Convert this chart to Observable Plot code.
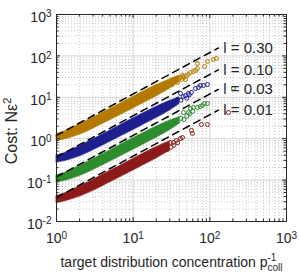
<!DOCTYPE html>
<html><head><meta charset="utf-8">
<script src="https://cdn.jsdelivr.net/npm/d3@7"></script>
<script src="https://cdn.jsdelivr.net/npm/@observablehq/plot@0.6"></script>
<style>
body{margin:0;background:#fff}
svg{font-family:"Liberation Sans",Arial,Helvetica,sans-serif}
</style>
</head><body><div id="chart"></div>
<script>
// ---- data ----
const seriesNames = ["l = 0.30", "l = 0.10", "l = 0.03", "l = 0.01"];
const seriesColors = ["#b47a00", "#1e1e8f", "#2e8b2e", "#8c1a1a"];

// dense band of points: x positions and lower / upper cost edges
const bandX = [1, 1.3, 2, 3, 5, 10, 20, 30, 40];
const band030Top = [1.3, 1.5, 2.2, 3.2, 5.2, 10.2, 19.5, 27, 33];
const band030Bot = [0.88, 0.97, 1.25, 1.75, 2.8, 5.4, 10.5, 16, 23];
const band010Top = [0.39, 0.45, 0.66, 0.96, 1.56, 3.06, 5.85, 8.1, 9.9];
const band010Bot = [0.265, 0.29, 0.375, 0.525, 0.84, 1.62, 3.15, 4.8, 6.9];
const band003Top = [0.13, 0.15, 0.22, 0.32, 0.52, 1.02, 1.95, 2.7, 3.3];
const band003Bot = [0.088, 0.097, 0.125, 0.175, 0.28, 0.54, 1.05, 1.6, 2.3];
const band001Top = [0.041, 0.048, 0.07, 0.101, 0.165, 0.323, 0.62, 0.86];
const band001Bot = [0.028, 0.031, 0.04, 0.055, 0.089, 0.171, 0.333, 0.51];

// individual points at high concentration [x, cost]
const pts030 = [[30,22],[32,20],[34,27],[38,23],[40,29],[43,27],[44,34],[46,30],[33.5,25.5],[36.7,28.5],[41.4,30.1],[45.3,31.8],[48.1,26.9],[49.5,33.6],[52.6,35.6],[55.9,39.7],[61.1,42],[64.9,44.4],[68.9,49.6],[68.9,65.5],[85,55.5],[93,73.2],[111,81.8],[121.9,86.5]];
const pts010 = [[35,7.5],[38,9],[42,8.5],[45,10.5],[50,9.5],[54,11.5],[41.4,12.4],[48.1,11],[52.6,12.4],[57.6,13.1],[64.9,16.3],[71,17.3],[75.4,19.3],[82.6,19.3],[93,20.4]];
const pts003 = [[38,2.6],[42,3.1],[46,2.9],[50,3.5],[55,4],[60,4.6],[45.3,4.29],[52.6,4.29],[55.9,5.36],[61.1,5.67],[68.9,5.67],[75.4,6.0],[80.1,6.34],[85,7.08],[93,7.08],[203,16.3]];
const pts001 = [[28,0.55],[31,0.62],[34,0.7],[38,0.8],[30.6,0.81],[33.5,0.81],[36.7,0.906],[41.4,1.01],[44,1.07],[57.6,1.58],[59.3,1.34],[77.7,2.2],[93,2.2],[175,4.29]];

// dashed reference lines: start (x=1) and end points
const refLineX = [1, 129];
const refLineStartY = [1.2, 0.36, 0.12, 0.038];
const refLineEndY = [155, 46, 15.5, 4.9];

// axes
const xDomain = [1, 1000];
const yDomain = [0.01, 1000];
const xMajor = [1, 10, 100, 1000];
const yMajor = [0.01, 0.1, 1, 10, 100, 1000];
const minorMult = [2, 3, 4, 5, 6, 7, 8, 9];

// ---- build ----
const minorOf = (majors) => majors.slice(0, -1).flatMap(d => minorMult.map(m => d * m));
const xMinor = minorOf(xMajor), yMinor = minorOf(yMajor);

const bandTops = [band030Top, band010Top, band003Top, band001Top];
const bandBots = [band030Bot, band010Bot, band003Bot, band001Bot];
const bands = seriesNames.flatMap((s, i) => bandTops[i].map((hi, j) => ({s, x: bandX[j], lo: bandBots[i][j], hi})));
const ptsAll = [pts030, pts010, pts003, pts001];
const dots = seriesNames.flatMap((s, i) => ptsAll[i].map(([x, y]) => ({s, x, y})));
const refLines = seriesNames.flatMap((s, i) => [{s, x: refLineX[0], y: refLineStartY[i]}, {s, x: refLineX[1], y: refLineEndY[i]}]);
const refLabels = seriesNames.map((s, i) => ({s, x: refLineX[1], y: refLineEndY[i]}));

const W = 299, H = 275, mL = 56, mR = 13, mT = 14, mB = 54;
const plotH = H - mT - mB, plotW = W - mL - mR;
const majLen = 4, minLen = 2.5;
const sup = d => "10^" + Math.round(Math.log10(d));

const marks = [
  Plot.gridX(xMinor, {stroke: "#a0a0a0", strokeOpacity: 0.55, strokeDasharray: "1,2"}),
  Plot.gridY(yMinor, {stroke: "#a0a0a0", strokeOpacity: 0.55, strokeDasharray: "1,2"}),
  Plot.gridX(xMajor, {stroke: "#d6d6d6", strokeOpacity: 1}),
  Plot.gridY(yMajor, {stroke: "#d6d6d6", strokeOpacity: 1}),
];
seriesNames.forEach((s, i) => {
  marks.push(Plot.areaY(bands.filter(d => d.s === s), {x: "x", y1: "lo", y2: "hi", fill: seriesColors[i], stroke: seriesColors[i], strokeWidth: 1.2, strokeOpacity: 0.6, curve: "catmull-rom"}));
  marks.push(Plot.dot(dots.filter(d => d.s === s), {x: "x", y: "y", r: 2, stroke: seriesColors[i], strokeWidth: 1, fill: "none"}));
});
marks.push(
  Plot.line(refLines, {x: "x", y: "y", z: "s", stroke: "black", strokeWidth: 1.5, strokeDasharray: "7,5"}),
  Plot.text(refLabels, {x: "x", y: "y", text: "s", textAnchor: "start", dx: 5, fontSize: 15, fill: "#262626"}),
  // inward ticks on all four sides
  Plot.tickX(xMajor, {x: d => d, insetTop: plotH - majLen, stroke: "#262626"}),
  Plot.tickX(xMajor, {x: d => d, insetBottom: plotH - majLen, stroke: "#262626"}),
  Plot.tickX(xMinor, {x: d => d, insetTop: plotH - minLen, stroke: "#262626"}),
  Plot.tickX(xMinor, {x: d => d, insetBottom: plotH - minLen, stroke: "#262626"}),
  Plot.tickY(yMajor, {y: d => d, insetRight: plotW - majLen, stroke: "#262626"}),
  Plot.tickY(yMajor, {y: d => d, insetLeft: plotW - majLen, stroke: "#262626"}),
  Plot.tickY(yMinor, {y: d => d, insetRight: plotW - minLen, stroke: "#262626"}),
  Plot.tickY(yMinor, {y: d => d, insetLeft: plotW - minLen, stroke: "#262626"}),
  Plot.frame({stroke: "#262626", strokeWidth: 1}),
  Plot.axisX(xMajor, {tickSize: 0, tickPadding: 12, tickFormat: sup, fontSize: 14, fill: "#262626", label: null}),
  Plot.axisY(yMajor, {tickSize: 0, tickPadding: 5, tickFormat: sup, fontSize: 14, fill: "#262626", label: null, dy: 3}),
  Plot.text(["target distribution concentration p"], {frameAnchor: "bottom", dy: 45, text: d => d, fontSize: 14, fill: "#262626"}),
  Plot.text(["Cost: Nε"], {frameAnchor: "middle", dx: -160, dy: 13, rotate: -90, text: d => d, fontSize: 16, fill: "#262626"})
);

const chart = Plot.plot({
  width: W, height: H,
  marginLeft: mL, marginRight: mR, marginTop: mT, marginBottom: mB,
  x: {type: "log", domain: xDomain},
  y: {type: "log", domain: yDomain},
  style: {background: "#fff", fontFamily: "'Liberation Sans', Arial, sans-serif"},
  marks
});
document.getElementById("chart").appendChild(chart);

// typeset superscripts / subscripts as real text
const svg = d3.select(chart);
svg.selectAll("text").each(function() {
  const t = d3.select(this);
  const txt = this.textContent;
  const node = this.querySelector("tspan") ? d3.select(this.querySelector("tspan")) : t;
  const m = /^10\^(-?\d+)$/.exec(txt);
  if (m) {
    node.text("10");
    node.append("tspan").attr("dy", "-0.45em").attr("font-size", "10px").text(m[1]);
  } else if (txt === "target distribution concentration p") {
    const supT = node.append("tspan").attr("dy", "-6").attr("font-size", "10px").text("-1");
    const w = supT.node().getComputedTextLength();
    node.append("tspan").attr("dx", -w).attr("dy", "10").attr("font-size", "10px").text("coll");
  } else if (txt === "Cost: Nε") {
    node.append("tspan").attr("dy", "-6").attr("font-size", "11px").text("2");
  }
});
</script>
</body></html>
